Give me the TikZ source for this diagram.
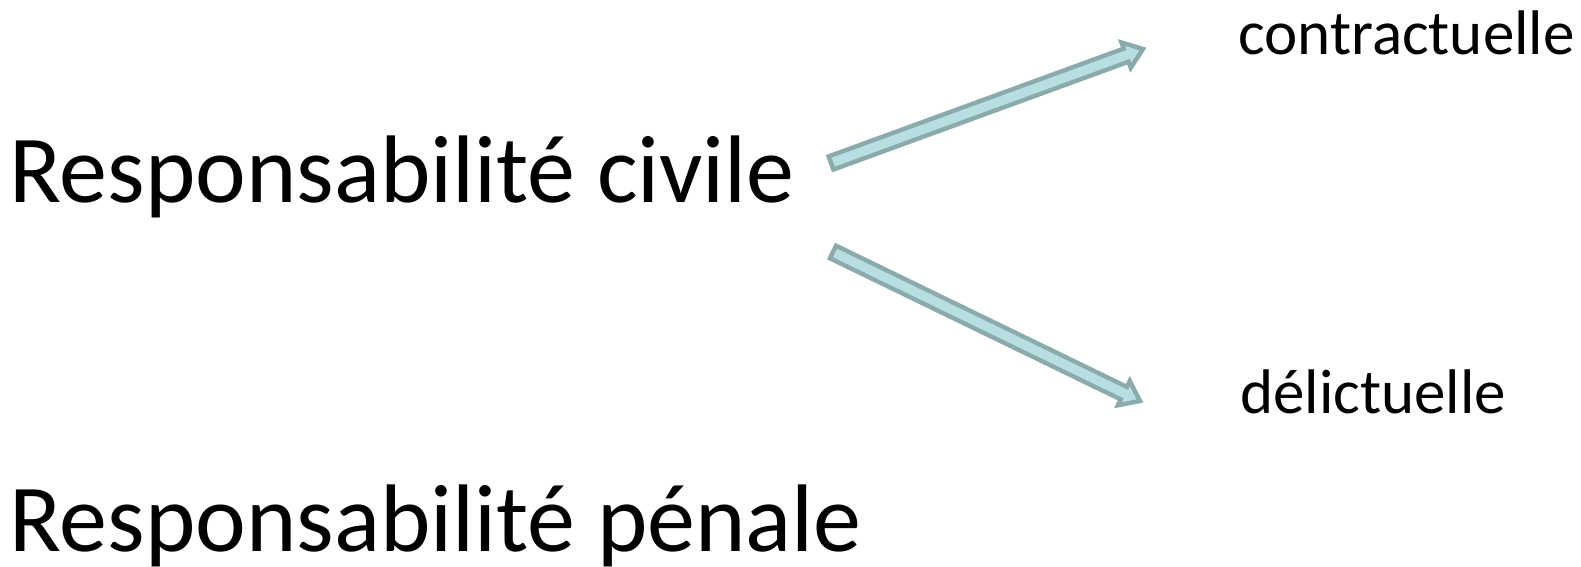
\documentclass[tikz,border=0pt]{standalone}
\usepackage{fontspec}
\setmainfont{Carlito}
\usetikzlibrary{calc}
\definecolor{remplissage}{RGB}{183,222,224}
\definecolor{contour}{RGB}{138,170,172}
\tikzset{
	fleche/.style={draw=contour,fill=remplissage,line width=2.2pt,line join=miter},
	grand/.style={anchor=base west,inner sep=0pt,font=\fontsize{48}{52}\selectfont},
	petit/.style={anchor=base west,inner sep=0pt,font=\fontsize{31.5}{35}\selectfont}
}
% demi-largeur du corps, demi-largeur de la pointe, longueur de la pointe
\newcommand{\demi}{7}
\newcommand{\aile}{13.5}
\newcommand{\pointe}{18}
\newcommand{\fleche}[2]{%
	\coordinate (#1-#2) at ($(#2)!\pointe*0.5pt!(#1)$);
	\draw[fleche] ($(#1)!\demi*0.5pt!90:(#2)$) -- ($(#1-#2)!\demi*0.5pt!90:(#2)$) -- ($(#1-#2)!\aile*0.5pt!90:(#2)$) -- (#2) -- ($(#1-#2)!\aile*0.5pt!-90:(#2)$) -- ($(#1-#2)!\demi*0.5pt!-90:(#2)$) -- ($(#1)!\demi*0.5pt!-90:(#2)$) -- cycle;}
\begin{document}
\begin{tikzpicture}[x=0.5pt,y=-0.5pt]
			\useasboundingbox (0,0) rectangle (1581,567);
			%textes
			\node[grand] (civile) at (9,203) {Responsabilité civile};
			\node[grand] (penale) at (9,551) {Responsabilité pénale};
			\node[petit] (contrat) at (1238,55) {contractuelle};
			\node[petit] (delit) at (1240,413) {délictuelle};
			%flèches
			\coordinate (depart1) at (831,163);
			\coordinate (fin1) at (1143,49);
			\coordinate (depart2) at (833,252);
			\coordinate (fin2) at (1140,401);
			\fleche{depart1}{fin1}
			\fleche{depart2}{fin2}
		\end{tikzpicture}
\end{document}
